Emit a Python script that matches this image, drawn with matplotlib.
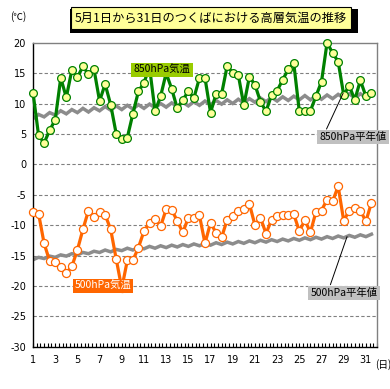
import numpy as np
import matplotlib
matplotlib.use("Agg")
import matplotlib.pyplot as plt

plt.rcParams['font.family'] = ['Noto Sans CJK JP', 'DejaVu Sans']

# 観測時刻（1日2回）: 1日, 1.5日, ... 31.5日
obs_index = np.arange(62)
days = 1 + obs_index * 0.5

# 850hPa 気温 (℃)
t850 = [11.8, 4.8, 3.5, 5.6, 7.3, 14.2, 11.0, 15.5, 14.3, 16.1,
        14.8, 15.6, 10.4, 13.2, 9.8, 5.0, 4.1, 4.4, 8.3, 12.0,
        13.4, 16.0, 8.7, 11.2, 15.0, 12.4, 9.2, 10.6, 12.0, 10.9,
        14.2, 14.2, 8.5, 11.6, 11.6, 16.2, 15.0, 14.7, 9.7, 14.4,
        13.1, 10.3, 8.7, 11.4, 12.1, 13.9, 15.6, 16.6, 8.7, 8.7,
        8.8, 11.2, 13.6, 20.0, 18.3, 16.9, 11.4, 12.9, 10.6, 13.8,
        11.2, 11.7]

# 500hPa 気温 (℃)
t500 = [-7.9, -8.1, -13.0, -15.9, -16.0, -16.9, -17.9, -16.8, -14.1, -10.7,
        -7.6, -8.6, -7.8, -8.3, -10.7, -15.6, -20.4, -15.8, -15.8, -13.7,
        -11.0, -9.6, -9.0, -10.2, -7.4, -7.5, -9.3, -11.2, -8.8, -8.8,
        -8.4, -13.0, -9.6, -11.3, -12.0, -9.1, -8.5, -7.7, -7.4, -6.5,
        -10.0, -8.8, -11.4, -9.1, -8.5, -8.4, -8.4, -8.2, -11.0, -9.2,
        -11.2, -7.8, -7.6, -5.8, -6.1, -3.6, -9.3, -7.6, -7.2, -7.6,
        -9.4, -6.3]

# 850hPa 平年値 (℃)
n850 = [7.5, 8.2, 7.8, 8.5, 8.1, 8.8, 8.3, 9.0, 8.5, 9.2,
        8.6, 9.3, 8.8, 9.5, 8.9, 9.6, 9.0, 9.7, 9.1, 9.8,
        9.2, 9.9, 9.3, 10.0, 9.4, 10.1, 9.5, 10.2, 9.6, 10.3,
        9.7, 10.4, 9.8, 10.5, 9.9, 10.6, 10.0, 10.7, 10.1, 10.8,
        10.2, 10.9, 10.3, 11.0, 10.4, 11.1, 10.5, 11.2, 10.6, 11.3,
        10.6, 11.3, 10.7, 11.4, 10.8, 11.5, 10.9, 11.6, 10.9, 11.6,
        11.0, 11.7]

# 500hPa 平年値 (℃)
n500 = [-15.7, -15.3, -15.5, -15.1, -15.3, -14.9, -15.1, -14.7, -14.9, -14.5,
        -14.7, -14.3, -14.5, -14.1, -14.4, -14.0, -14.2, -13.8, -14.1, -13.7,
        -13.9, -13.5, -13.8, -13.4, -13.7, -13.3, -13.6, -13.2, -13.5, -13.1,
        -13.4, -13.0, -13.3, -12.9, -13.2, -12.8, -13.1, -12.7, -13.0, -12.6,
        -12.9, -12.5, -12.8, -12.4, -12.7, -12.3, -12.6, -12.2, -12.5, -12.1,
        -12.4, -12.0, -12.3, -11.9, -12.2, -11.8, -12.1, -11.7, -12.0, -11.6,
        -11.9, -11.5]

x_labels = list(range(1, 32, 2))
y_ticks = list(range(-30, 21, 5))

W, H = 390, 389
fig = plt.figure(figsize=(W / 100, H / 100), dpi=100)
ax = fig.add_axes([33 / W, 1 - 346.7 / H, 344 / W, 304 / H])

# グリッド
for v in range(-25, 20, 5):
    ax.axhline(v, color='#808080', lw=0.8, ls=(0, (3, 2)), zorder=1)

# 平年値
ax.plot(days, n850, color='#8c8c8c', lw=2.5, zorder=2, solid_joinstyle='miter')
ax.plot(days, n500, color='#8c8c8c', lw=2.5, zorder=2, solid_joinstyle='miter')

# 気温
ax.plot(days, t850, color='#008000', lw=2.3, marker='o', ms=5.6,
        mfc='#ffff99', mec='#008000', mew=0.9, zorder=4, clip_on=False)
ax.plot(days, t500, color='#ff6600', lw=2.3, marker='o', ms=5.8,
        mfc='white', mec='#ff6600', mew=0.9, zorder=4, clip_on=False)

ax.set_xlim(1, 32)
ax.set_ylim(-30, 20)
ax.set_xticks(x_labels)
ax.set_xticklabels([str(d) for d in x_labels], fontsize=7, family='DejaVu Sans')
ax.set_xticks(np.arange(1, 32.01, 1 / 3), minor=True)
ax.set_yticks(y_ticks)
ax.set_yticklabels([str(v) for v in y_ticks], fontsize=7, family='DejaVu Sans')
ax.tick_params(axis='x', which='both', direction='in', length=3, width=0.8,
               pad=6, top=False)
ax.tick_params(axis='y', which='both', length=0, pad=5)

for s in ['left', 'bottom']:
    ax.spines[s].set_color('black')
    ax.spines[s].set_linewidth(1.0)
for s in ['top', 'right']:
    ax.spines[s].set_color('#808080')
    ax.spines[s].set_linewidth(1.0)

# 単位
fig.text(10 / W, 1 - 17 / H, '(℃)', fontsize=7, ha='left', va='center')
fig.text(383 / W, 1 - 365 / H, '(日)', fontsize=7, ha='center', va='center')

# タイトル
fig.text(211 / W, 1 - 18 / H, '5月1日から31日のつくばにおける高層気温の推移',
         fontsize=8.8, ha='center', va='center',
         bbox=dict(boxstyle='square,pad=0.35', fc='#ffff99', ec='black', lw=0.8))
fig.patches.append(plt.Rectangle((70 / W, 1 - 33 / H), 288 / W, 24 / H,
                                 transform=fig.transFigure, fc='black',
                                 ec='none', zorder=-1))

# 系列ラベル
fig.text(162 / W, 1 - 70 / H, '850hPa気温', fontsize=7.5, ha='center',
         va='center', color='black',
         bbox=dict(boxstyle='square,pad=0.2', fc='#99cc00', ec='none'))
fig.text(103 / W, 1 - 286 / H, '500hPa気温', fontsize=7.5, ha='center',
         va='center', color='white',
         bbox=dict(boxstyle='square,pad=0.2', fc='#ff6600', ec='none'))

ax.annotate('', xy=(28.95, 11.7), xytext=(27.45, 5.8),
            arrowprops=dict(arrowstyle='-', color='black', lw=0.7,
                            shrinkA=0, shrinkB=0), zorder=5)
ax.annotate('', xy=(29.3, -11.9), xytext=(27.8, -19.8),
            arrowprops=dict(arrowstyle='-', color='black', lw=0.7,
                            shrinkA=0, shrinkB=0), zorder=5)
fig.text(353 / W, 1 - 137 / H, '850hPa平年値', fontsize=7.5, ha='center',
         va='center', color='black',
         bbox=dict(boxstyle='square,pad=0.2', fc='#c0c0c0', ec='none'))
fig.text(344 / W, 1 - 293 / H, '500hPa平年値', fontsize=7.5, ha='center',
         va='center', color='black',
         bbox=dict(boxstyle='square,pad=0.2', fc='#c0c0c0', ec='none'))

fig.savefig('out.png', dpi=100)
